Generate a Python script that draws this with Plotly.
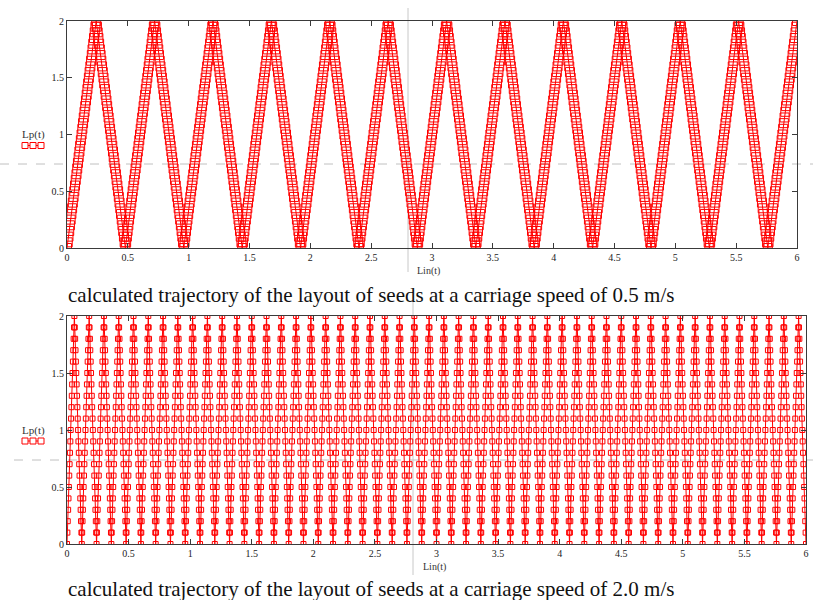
import plotly.graph_objects as go

# Turning points of the seed-tube stroke (Lin, Lp) at 0.5 m/s
top_turn_x = [0.00, 0.24, 0.48, 0.72, 0.96, 1.20, 1.44, 1.68, 1.92, 2.16,
              2.40, 2.64, 2.88, 3.12, 3.36, 3.60, 3.84, 4.08, 4.32, 4.56,
              4.80, 5.04, 5.28, 5.52, 5.76, 6.00]
top_turn_y = [0, 2, 0, 2, 0, 2, 0, 2, 0, 2, 0, 2, 0, 2, 0, 2, 0, 2, 0, 2,
              0, 2, 0, 2, 0, 2]

# Turning points of the stroke at 2.0 m/s
bottom_turn_x = [0.00, 0.06, 0.12, 0.18, 0.24, 0.30, 0.36, 0.42, 0.48, 0.54,
                 0.60, 0.66, 0.72, 0.78, 0.84, 0.90, 0.96, 1.02, 1.08, 1.14,
                 1.20, 1.26, 1.32, 1.38, 1.44, 1.50, 1.56, 1.62, 1.68, 1.74,
                 1.80, 1.86, 1.92, 1.98, 2.04, 2.10, 2.16, 2.22, 2.28, 2.34,
                 2.40, 2.46, 2.52, 2.58, 2.64, 2.70, 2.76, 2.82, 2.88, 2.94,
                 3.00, 3.06, 3.12, 3.18, 3.24, 3.30, 3.36, 3.42, 3.48, 3.54,
                 3.60, 3.66, 3.72, 3.78, 3.84, 3.90, 3.96, 4.02, 4.08, 4.14,
                 4.20, 4.26, 4.32, 4.38, 4.44, 4.50, 4.56, 4.62, 4.68, 4.74,
                 4.80, 4.86, 4.92, 4.98, 5.04, 5.10, 5.16, 5.22, 5.28, 5.34,
                 5.40, 5.46, 5.52, 5.58, 5.64, 5.70, 5.76, 5.82, 5.88, 5.94,
                 6.00]
bottom_turn_y = [0, 2] * 50 + [0]

# Lp values at which the trajectory is sampled along each stroke
top_levels = [0.00, 0.05, 0.10, 0.15, 0.20, 0.25, 0.30, 0.35, 0.40, 0.45,
              0.50, 0.55, 0.60, 0.65, 0.70, 0.75, 0.80, 0.85, 0.90, 0.95,
              1.00, 1.05, 1.10, 1.15, 1.20, 1.25, 1.30, 1.35, 1.40, 1.45,
              1.50, 1.55, 1.60, 1.65, 1.70, 1.75, 1.80, 1.85, 1.90, 1.95,
              2.00]
bottom_levels = [0.0, 0.1, 0.2, 0.3, 0.4, 0.5, 0.6, 0.7, 0.8, 0.9, 1.0,
                 1.1, 1.2, 1.3, 1.4, 1.5, 1.6, 1.7, 1.8, 1.9, 2.0]

x_ticks = [0, 0.5, 1, 1.5, 2, 2.5, 3, 3.5, 4, 4.5, 5, 5.5, 6]
x_tick_text = ["0", "0.5", "1", "1.5", "2", "2.5", "3", "3.5", "4", "4.5", "5", "5.5", "6"]
y_ticks = [0, 0.5, 1, 1.5, 2]
y_tick_text = ["0", "0.5", "1", "1.5", "2"]

captions = ["calculated trajectory of the layout of seeds at a carriage speed of 0.5 m/s",
            "calculated trajectory of the layout of seeds at a carriage speed of 2.0 m/s"]


def stroke_samples(turn_x, turn_y, levels):
    """Positions along each straight stroke where Lp passes the sample levels."""
    xs, ys = [turn_x[0]], [turn_y[0]]
    for i in range(len(turn_x) - 1):
        x0, x1 = turn_x[i], turn_x[i + 1]
        y0, y1 = turn_y[i], turn_y[i + 1]
        seq = levels if y1 > y0 else levels[::-1]
        for lv in seq[1:]:
            xs.append(x0 + (x1 - x0) * (lv - y0) / (y1 - y0))
            ys.append(lv)
    return xs, ys


W, H = 813, 600
SERIF = "Liberation Serif, Times New Roman, serif"
RED = "#ff0000"

tx, ty = stroke_samples(top_turn_x, top_turn_y, top_levels)
bx, by = stroke_samples(bottom_turn_x, bottom_turn_y, bottom_levels)

fig = go.Figure()
fig.add_trace(go.Scatter(
    x=tx, y=ty, mode="lines+markers", xaxis="x", yaxis="y",
    line=dict(color=RED, width=1),
    marker=dict(symbol="square-open", size=9, color=RED, line=dict(width=1, color=RED)),
    showlegend=False, hoverinfo="skip"))
fig.add_trace(go.Scatter(
    x=bx, y=by, mode="lines+markers", xaxis="x2", yaxis="y2",
    line=dict(color=RED, width=1),
    marker=dict(symbol="square-open", size=5, color=RED, line=dict(width=1, color=RED)),
    showlegend=False, hoverinfo="skip"))


def px_x(p):
    return p / W


def px_y(p):
    return 1 - p / H


axis_common = dict(
    showgrid=False, zeroline=False, showline=True, linecolor="#3a3a3a",
    linewidth=1, mirror="ticks", ticks="inside", ticklen=5, tickcolor="#3a3a3a",
    tickfont=dict(family=SERIF, size=10, color="#222222"), tickmode="array",
)

fig.update_layout(
    width=W, height=H, margin=dict(l=0, r=0, t=0, b=0, autoexpand=False),
    paper_bgcolor="white", plot_bgcolor="white",
    xaxis=dict(axis_common, range=[0, 6], tickvals=x_ticks, ticktext=x_tick_text,
               domain=[px_x(67), px_x(797)], anchor="y"),
    yaxis=dict(axis_common, range=[0, 2], tickvals=y_ticks, ticktext=y_tick_text,
               domain=[px_y(248), px_y(21)], anchor="x"),
    xaxis2=dict(axis_common, range=[0, 6], tickvals=x_ticks, ticktext=x_tick_text,
                domain=[px_x(67), px_x(806)], anchor="y2"),
    yaxis2=dict(axis_common, range=[0, 2], tickvals=y_ticks, ticktext=y_tick_text,
                domain=[px_y(544), px_y(316)], anchor="x2"),
)

annotations = []
shapes = []

# Crosshair guides (dashed horizontal, thin vertical)
for y_h, x_v, y_v0, y_v1, x_h0 in [(164, 408, 8, 272, 0), (460, 413, 302, 575, 14)]:
    shapes.append(dict(type="line", xref="paper", yref="paper",
                       x0=px_x(x_h0), x1=1, y0=px_y(y_h), y1=px_y(y_h),
                       line=dict(color="#c0c0c0", width=1, dash="dash"), layer="below"))
    shapes.append(dict(type="line", xref="paper", yref="paper",
                       x0=px_x(x_v), x1=px_x(x_v), y0=px_y(y_v0), y1=px_y(y_v1),
                       line=dict(color="#c8c8c8", width=1), layer="below"))

# Axis captions, legend swatches and figure captions
for lp_y, lin_x, lin_y, cap_y, cap in [(134.5, 428, 271, 295, captions[0]),
                                       (430, 434, 567, 589, captions[1])]:
    annotations.append(dict(text="Lp(t)", xref="paper", yref="paper", x=px_x(33), y=px_y(lp_y),
                            showarrow=False, xanchor="center", yanchor="middle",
                            font=dict(family=SERIF, size=11, color="#333333")))
    annotations.append(dict(text="Lin(t)", xref="paper", yref="paper", x=px_x(lin_x), y=px_y(lin_y),
                            showarrow=False, xanchor="center", yanchor="middle",
                            font=dict(family=SERIF, size=10, color="#333333")))
    annotations.append(dict(text=cap, xref="paper", yref="paper", x=px_x(66), y=px_y(cap_y),
                            showarrow=False, xanchor="left", yanchor="middle",
                            font=dict(family=SERIF, size=21, color="#111111")))
    sw_y = lp_y + 11
    shapes.append(dict(type="line", xref="paper", yref="paper",
                       x0=px_x(22), x1=px_x(44), y0=px_y(sw_y), y1=px_y(sw_y),
                       line=dict(color=RED, width=1)))
    for cx in (25, 33, 41):
        shapes.append(dict(type="rect", xref="paper", yref="paper",
                           x0=px_x(cx - 3), x1=px_x(cx + 3), y0=px_y(sw_y - 3), y1=px_y(sw_y + 3),
                           line=dict(color=RED, width=1), fillcolor="white"))

fig.update_layout(annotations=annotations, shapes=shapes)
fig.write_html("out.html")
